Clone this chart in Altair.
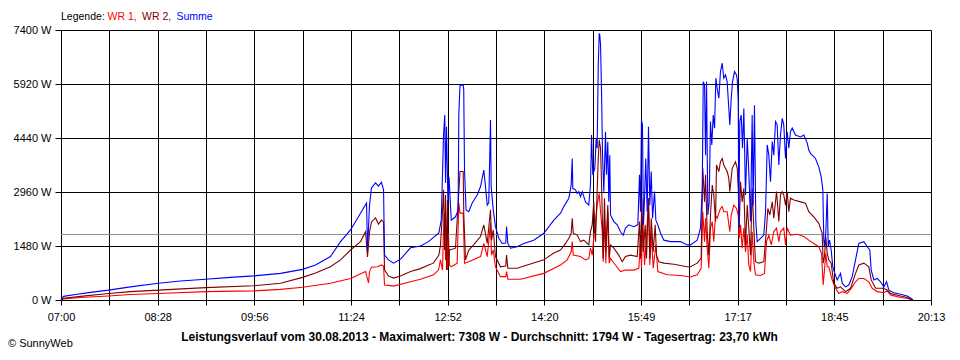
import altair as alt
import pandas as pd

# minutes after 07:00 and power in W
T_SUM = [0, 2.3, 13.2, 26.9, 43.3, 63.3, 88.9, 108.9, 131.7, 154.5, 175.5, 200.1, 220.2, 232.0, 245.6, 254.8, 263.9, 273.0, 278.5, 279.4, 281.2, 283.0, 286.7, 289.4, 292.1, 294.0, 294.9, 298.5, 303.1, 309.5, 318.6, 327.7, 335.0, 344.4, 346.6, 348.7, 349.8, 350.5, 351.4, 352.7, 353.7, 355.7, 359.6, 362.0, 362.6, 363.7, 366.6, 367.1, 367.8, 369.2, 371.7, 374.8, 379.4, 382.4, 385.4, 386.9, 388.5, 389.9, 391.5, 392.1, 394.0, 396.0, 399.1, 402.2, 405.4, 406.1, 407.3, 409.7, 415.8, 421.8, 430.9, 440.1, 449.2, 455.3, 458.3, 462.9, 465.0, 466.0, 466.5, 469.0, 470.5, 472.0, 473.5, 475.1, 478.1, 481.1, 482.6, 483.6, 484.7, 486.6, 487.8, 488.7, 489.7, 490.6, 491.1, 491.8, 492.7, 493.6, 494.8, 496.3, 497.2, 498.4, 499.3, 500.2, 500.9, 503.9, 507.0, 510.0, 512.5, 514.5, 517.6, 522.1, 525.8, 527.3, 528.2, 529.1, 530.0, 530.9, 531.9, 533.0, 534.3, 535.5, 536.7, 538.0, 539.2, 541.0, 542.2, 544.0, 546.5, 549.5, 555.6, 564.7, 570.8, 573.8, 579.9, 582.9, 584.5, 585.4, 586.6, 587.5, 588.4, 589.6, 590.8, 592.0, 593.2, 594.5, 595.7, 596.9, 598.1, 599.6, 601.1, 602.7, 604.1, 605.7, 607.2, 608.7, 609.6, 610.9, 612.1, 613.9, 615.7, 616.4, 617.3, 617.8, 618.7, 620.0, 621.2, 622.4, 623.9, 625.5, 626.9, 628.5, 630.0, 630.9, 632.1, 633.3, 634.6, 637.6, 640.6, 642.2, 643.7, 645.2, 646.7, 648.3, 649.7, 651.3, 652.8, 654.3, 655.8, 657.4, 658.8, 660.4, 661.9, 663.4, 664.9, 666.5, 669.5, 674.1, 677.1, 680.2, 681.6, 683.2, 687.7, 690.7, 692.9, 694.4, 695.3, 695.9, 697.1, 698.4, 699.3, 700.5, 702.0, 703.5, 705.3, 707.5, 710.5, 712.1, 715.1, 718.1, 721.2, 724.2, 727.2, 731.8, 734.9, 737.2, 738.5, 740.9, 744.0, 747.0, 750.0, 752.5, 754.6, 759.1, 765.2, 771.3, 775.9, 776.5]
P_SUM = [0, 100, 150, 210, 270, 360, 460, 520, 570, 620, 660, 730, 840, 960, 1190, 1600, 1920, 2380, 2660, 1370, 2600, 3070, 3210, 3120, 3230, 3020, 1230, 1100, 1010, 1120, 1430, 1480, 1600, 1840, 2190, 4520, 5070, 3210, 4750, 2660, 3370, 2190, 2280, 2470, 5070, 5890, 5890, 5760, 3560, 2470, 2420, 2660, 2880, 3110, 3560, 3110, 2600, 2660, 4930, 3110, 2470, 2010, 1690, 1550, 1560, 2010, 1550, 1420, 1460, 1550, 1640, 1830, 2190, 2380, 2560, 2790, 3150, 3880, 3060, 3020, 2920, 2970, 2830, 2970, 2690, 2600, 3150, 4520, 3430, 3610, 4430, 4160, 6440, 7308, 7260, 6990, 5710, 3970, 2970, 4610, 3430, 4340, 2690, 3970, 2330, 2150, 2060, 1870, 1780, 1970, 2060, 2010, 2060, 3430, 2420, 4930, 4800, 2060, 2790, 3880, 2420, 4750, 2600, 3520, 2240, 2970, 2190, 2060, 1830, 1640, 1600, 1600, 1510, 1510, 1640, 1970, 3060, 5980, 5890, 3970, 5980, 2330, 2690, 4890, 4250, 5070, 4710, 6080, 5800, 5530, 6260, 6490, 6080, 6170, 5980, 5250, 4800, 5530, 5980, 6260, 6170, 6030, 5440, 1970, 4890, 5070, 4160, 5250, 2880, 4430, 3520, 2150, 5070, 2600, 5340, 2150, 1600, 1690, 1780, 2420, 4250, 3970, 3240, 4340, 3970, 4890, 4800, 3700, 4520, 4980, 4800, 3880, 4610, 4160, 4610, 4710, 4520, 4470, 4520, 4300, 4110, 4020, 3880, 3650, 3380, 3020, 1640, 1460, 1830, 2920, 1460, 1640, 1370, 910, 730, 550, 730, 460, 360, 410, 640, 1100, 1550, 1600, 1460, 1370, 820, 550, 590, 500, 360, 500, 270, 200, 160, 110, 20, 0]

T_WR2 = [0, 2.3, 17.8, 43.3, 63.3, 88.9, 131.7, 175.5, 200.1, 220.2, 232.0, 245.6, 254.8, 263.9, 273.0, 277.6, 279.4, 281.2, 283.0, 286.7, 289.4, 292.1, 294.0, 294.9, 298.5, 303.1, 309.5, 318.6, 327.7, 335.0, 339.5, 344.4, 345.9, 347.5, 348.7, 349.6, 350.5, 351.4, 352.3, 353.2, 354.1, 359.6, 362.0, 363.7, 366.6, 367.1, 368.7, 371.7, 376.0, 382.4, 385.4, 388.5, 391.5, 392.4, 394.0, 396.0, 400.6, 405.4, 406.1, 407.3, 415.8, 424.9, 440.1, 449.2, 455.3, 459.9, 462.9, 465.0, 466.0, 466.9, 470.5, 473.5, 476.5, 481.1, 482.6, 484.2, 485.6, 487.2, 488.7, 489.7, 490.6, 491.8, 492.9, 494.2, 495.4, 496.6, 498.4, 499.7, 500.9, 503.9, 508.4, 511.5, 514.5, 519.1, 525.2, 527.3, 528.2, 529.4, 530.7, 532.5, 533.7, 535.5, 536.7, 538.0, 539.8, 541.6, 542.8, 544.9, 549.5, 558.6, 570.8, 573.8, 579.9, 583.5, 585.0, 586.6, 587.5, 589.0, 590.5, 592.0, 593.6, 595.0, 596.6, 597.5, 599.6, 601.1, 602.7, 604.1, 607.2, 608.7, 609.6, 611.8, 614.8, 616.4, 617.3, 618.2, 619.4, 620.9, 622.4, 623.9, 625.5, 626.9, 628.5, 630.0, 631.5, 633.0, 636.0, 640.6, 643.1, 644.3, 646.1, 648.3, 649.7, 652.2, 654.3, 655.8, 657.4, 658.8, 660.4, 661.9, 663.4, 664.9, 668.0, 674.1, 678.6, 681.6, 686.2, 690.7, 693.8, 694.7, 695.9, 697.1, 698.4, 699.8, 702.0, 704.4, 707.5, 710.5, 715.1, 719.6, 724.2, 727.2, 731.8, 736.3, 738.5, 742.5, 748.6, 752.5, 756.1, 765.2, 771.3, 775.9]
P_WR2 = [0, 50, 100, 180, 230, 270, 340, 390, 460, 620, 740, 910, 1100, 1370, 1600, 1870, 1180, 1860, 2140, 2250, 2080, 2190, 2140, 820, 660, 600, 660, 780, 860, 960, 1010, 1230, 1510, 2280, 3020, 1370, 2880, 820, 2740, 960, 1370, 1420, 2660, 3520, 3520, 2380, 1100, 1370, 1510, 1740, 2060, 1550, 2470, 1640, 1920, 1190, 910, 930, 1230, 870, 870, 960, 1100, 1290, 1370, 1550, 1690, 1830, 2240, 1830, 1780, 1600, 1640, 1510, 1870, 2060, 2690, 1600, 2970, 3880, 4390, 4160, 2970, 1140, 2790, 1320, 2600, 1140, 1510, 1420, 1230, 1050, 1190, 1230, 1190, 2150, 1140, 2790, 1320, 2060, 1140, 2790, 1140, 2240, 1320, 2060, 1230, 1050, 1010, 980, 910, 910, 1010, 1140, 3610, 2690, 3430, 1870, 1230, 2330, 3150, 2880, 2150, 3700, 3520, 3790, 3880, 3700, 3520, 3340, 2970, 3610, 3790, 3610, 3060, 1970, 3240, 2690, 3060, 1510, 2600, 1970, 1230, 3060, 1970, 1050, 1010, 1050, 1970, 2510, 2330, 2690, 2240, 2970, 2150, 2880, 2970, 2880, 2600, 2970, 2420, 2790, 2740, 2690, 2650, 2420, 2280, 2100, 1830, 1010, 1190, 1740, 1280, 1100, 1010, 460, 320, 360, 230, 320, 730, 960, 1010, 910, 550, 320, 320, 290, 180, 110, 70, 0]

T_WR1 = [0, 2.3, 17.8, 43.3, 63.3, 88.9, 131.7, 175.5, 200.1, 220.2, 245.6, 263.9, 277.6, 280.3, 281.2, 283.0, 288.5, 292.1, 294.0, 294.9, 298.5, 303.1, 318.6, 327.7, 339.5, 344.1, 345.9, 347.7, 348.7, 349.6, 350.5, 351.4, 352.3, 353.2, 354.1, 355.7, 361.1, 362.6, 363.7, 366.6, 367.8, 371.7, 382.4, 385.4, 388.5, 391.5, 392.4, 394.0, 396.0, 400.6, 405.4, 406.1, 407.3, 418.8, 440.1, 455.3, 461.4, 465.0, 466.0, 466.9, 473.5, 478.1, 481.1, 482.6, 484.2, 485.6, 488.7, 490.6, 491.8, 493.4, 494.2, 495.4, 496.6, 498.4, 499.7, 500.9, 505.4, 510.0, 514.5, 522.1, 526.7, 528.2, 529.1, 530.3, 531.9, 533.7, 535.5, 536.7, 538.0, 539.8, 542.2, 544.0, 552.6, 564.7, 573.8, 579.9, 583.5, 585.0, 586.6, 587.5, 589.0, 590.5, 592.0, 593.6, 595.0, 596.6, 598.1, 601.1, 602.7, 604.1, 607.2, 609.6, 610.9, 613.3, 615.7, 617.3, 618.2, 619.4, 620.9, 622.4, 623.9, 625.5, 626.9, 628.5, 630.0, 631.5, 633.0, 637.6, 641.2, 643.1, 645.2, 647.4, 649.7, 652.2, 654.3, 655.8, 658.8, 660.4, 661.9, 664.9, 671.0, 677.1, 681.6, 686.2, 690.7, 693.2, 694.7, 695.9, 697.1, 698.4, 699.8, 702.9, 705.3, 708.9, 712.1, 716.7, 721.2, 724.2, 727.2, 731.8, 736.3, 739.4, 744.0, 750.0, 753.0, 756.1, 765.2, 771.3, 775.9]
P_WR1 = [0, 30, 70, 110, 150, 180, 230, 250, 290, 350, 460, 590, 780, 470, 770, 900, 910, 960, 930, 410, 400, 380, 500, 570, 690, 820, 1100, 820, 1920, 2380, 1100, 1640, 820, 1780, 960, 910, 1010, 2660, 2380, 2380, 1010, 1050, 1190, 1550, 1190, 2100, 1230, 1370, 910, 640, 640, 780, 570, 570, 730, 960, 1100, 1320, 1600, 1230, 1190, 1100, 1140, 1420, 1230, 1690, 2600, 2920, 2420, 1870, 1050, 2240, 1010, 2420, 1010, 1140, 960, 780, 820, 820, 870, 1690, 870, 2240, 960, 1690, 2790, 960, 1870, 870, 1510, 780, 690, 670, 630, 690, 870, 2420, 1600, 2240, 1420, 870, 1970, 2150, 1600, 2330, 2240, 2510, 2560, 2420, 2420, 1870, 2330, 2600, 2510, 2330, 1690, 2060, 1420, 1970, 1320, 1780, 960, 780, 1870, 1050, 690, 670, 730, 1600, 1780, 1510, 1870, 1970, 1600, 1870, 1970, 1510, 1970, 1780, 1800, 1740, 1640, 1550, 1460, 1280, 410, 820, 1280, 910, 910, 550, 360, 180, 230, 180, 360, 500, 590, 590, 500, 320, 230, 200, 250, 140, 70, 50, 0]

SERIES = ["WR 1", "WR 2", "Summe"]
COLORS = ["#ff0000", "#800000", "#0000ff"]

AVG_W = 1794
Y_TICKS = [0, 1480, 2960, 4440, 5920, 7400]
X_TICKS = [0, 44.06, 88.11, 132.17, 176.22, 220.28, 264.33, 308.39, 352.44, 396.5,
           440.56, 484.61, 528.67, 572.72, 616.78, 660.83, 704.89, 748.94, 793]
X_LABELS = ["07:00", "", "08:28", "", "09:56", "", "11:24", "", "12:52", "",
            "14:20", "", "15:49", "", "17:17", "", "18:45", "", "20:13"]

LEGEND_TEXT = ["Legende:", "WR 1,", "WR 2,", "Summe"]
LEGEND_COLORS = ["#000000", "#ff0000", "#800000", "#0000ff"]
TITLE = "Leistungsverlauf vom 30.08.2013 - Maximalwert: 7308 W - Durchschnitt: 1794 W - Tagesertrag: 23,70 kWh"
CREDIT = "© SunnyWeb"

FONT = "Liberation Sans"
W, H = 870, 270

frames = []
for name, ts, ps in [("WR 1", T_WR1, P_WR1), ("WR 2", T_WR2, P_WR2), ("Summe", T_SUM, P_SUM)]:
    frames.append(pd.DataFrame({"m": ts, "p": ps, "series": name}))
df = pd.concat(frames, ignore_index=True)

label_expr = "[" + ",".join("'" + s + "'" for s in X_LABELS) + "][round(datum.value / 44.0556)]"

axis_style = dict(gridColor="#000000", gridOpacity=1, gridWidth=1,
                  domainColor="#000000", domainWidth=1, domainOpacity=1,
                  tickColor="#000000", tickWidth=1, tickOpacity=1,
                  labelColor="#000000", labelFont=FONT, labelFontSize=11)

x_enc = alt.X("m:Q", scale=alt.Scale(domain=[0, 793], nice=False, zero=False),
              axis=alt.Axis(values=X_TICKS, labelExpr=label_expr, title=None,
                            grid=True, labelFlush=False, labelOverlap=False,
                            tickSize=5, labelPadding=6, **axis_style))
y_enc = alt.Y("p:Q", scale=alt.Scale(domain=[0, 7400], nice=False),
              axis=alt.Axis(values=Y_TICKS, labelExpr="datum.value + ' W'", title=None,
                            grid=True, labelFlush=False, tickSize=6, labelPadding=4,
                            **axis_style))

lines = alt.Chart(df).mark_line(strokeWidth=1.1, interpolate="linear").encode(
    x=x_enc,
    y=y_enc,
    color=alt.Color("series:N", scale=alt.Scale(domain=SERIES, range=COLORS), legend=None),
    detail="series:N",
)

avg = alt.Chart(pd.DataFrame({"p": [AVG_W]})).mark_rule(color="#8c8c8c", strokeWidth=1).encode(
    y=alt.Y("p:Q", scale=alt.Scale(domain=[0, 7400], nice=False))
)

legend_x = [0, 46.5, 81, 115.5]
texts = []
for txt, col, xx in zip(LEGEND_TEXT, LEGEND_COLORS, legend_x):
    texts.append(
        alt.Chart(pd.DataFrame({"t": [txt]})).mark_text(
            align="left", baseline="middle", font=FONT, fontSize=10.5, color=col
        ).encode(text="t:N", x=alt.value(xx), y=alt.value(-13))
    )

title = alt.Chart(pd.DataFrame({"t": [TITLE]})).mark_text(
    align="center", baseline="middle", font=FONT, fontSize=12, fontWeight="bold", color="#000000"
).encode(text="t:N", x=alt.value(418.5), y=alt.value(307))

credit = alt.Chart(pd.DataFrame({"t": [CREDIT]})).mark_text(
    align="left", baseline="middle", font=FONT, fontSize=11, color="#000000"
).encode(text="t:N", x=alt.value(-53), y=alt.value(314))

chart = alt.layer(avg, lines, title, credit, *texts).properties(
    width=W, height=H,
    autosize=alt.AutoSizeParams(type="none"),
    padding={"left": 53, "top": 22, "right": 19, "bottom": 51},
).configure_view(stroke=None).configure(background="#ffffff")

chart.save("out.html", embed_options={"renderer": "svg", "actions": False})
